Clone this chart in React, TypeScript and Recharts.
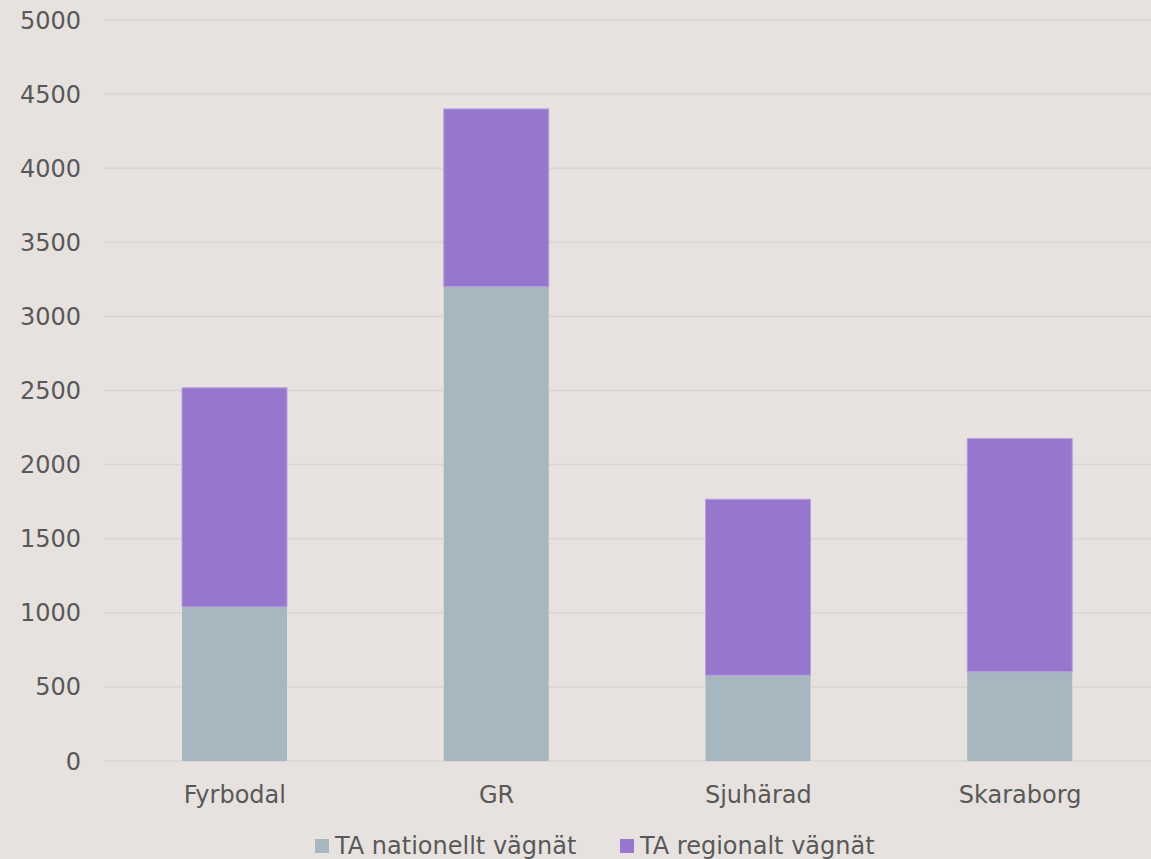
import React from "react";
import { BarChart, Bar, XAxis, YAxis, CartesianGrid } from "recharts";

const categories = ["Fyrbodal", "GR", "Sjuhärad", "Skaraborg"];
const nationellt = [1040, 3200, 578, 602];
const regionalt = [1478, 1200, 1188, 1574];
const yTicks = [0, 500, 1000, 1500, 2000, 2500, 3000, 3500, 4000, 4500, 5000];
const seriesNames = ["TA nationellt vägnät", "TA regionalt vägnät"];

const data = categories.map((c, i) => ({
  name: c,
  nat: nationellt[i],
  reg: regionalt[i],
}));

const FONT = "'DejaVu Sans', Verdana, sans-serif";
const TEXT = "#595959";
const COLORS = ["#a7b7c0", "#9776ce"];
const LEGEND_X = [315, 620];

export default function App() {
  return (
    <div
      style={{
        position: "absolute",
        left: 0,
        top: 0,
        width: 1151,
        height: 859,
        background: "#e7e2df",
        overflow: "hidden",
      }}
    >
      <BarChart
        width={1151}
        height={859}
        data={data}
        margin={{ top: 20, right: 0, bottom: 0, left: 0 }}
      >
        <CartesianGrid vertical={false} stroke="#d9d5d4" strokeWidth={1.5} />
        <XAxis
          dataKey="name"
          axisLine={false}
          tickLine={false}
          tickSize={0}
          tickMargin={25}
          tick={{ fill: TEXT, fontSize: 24, fontFamily: FONT }}
          height={98}
        />
        <YAxis
          domain={[0, 5000]}
          ticks={yTicks}
          axisLine={false}
          tickLine={false}
          tickSize={0}
          tickMargin={23}
          width={104}
          interval={0}
          tick={{ fill: TEXT, fontSize: 24, fontFamily: FONT }}
        />
        <Bar
          dataKey="nat"
          name={seriesNames[0]}
          stackId="a"
          fill={COLORS[0]}
          barSize={105}
          isAnimationActive={false}
        />
        <Bar
          dataKey="reg"
          name={seriesNames[1]}
          stackId="a"
          fill={COLORS[1]}
          stroke="#b5a0dc"
          strokeWidth={1}
          barSize={105}
          isAnimationActive={false}
        />
      </BarChart>
      {seriesNames.map((n, i) => (
        <div
          key={n}
          style={{
            position: "absolute",
            left: LEGEND_X[i],
            top: 834,
            height: 24,
            display: "flex",
            alignItems: "center",
            whiteSpace: "nowrap",
            fontFamily: FONT,
          }}
        >
          <div style={{ width: 14, height: 14, background: COLORS[i], marginRight: 6 }} />
          <span style={{ fontSize: 24, color: TEXT, lineHeight: "24px" }}>{n}</span>
        </div>
      ))}
    </div>
  );
}
